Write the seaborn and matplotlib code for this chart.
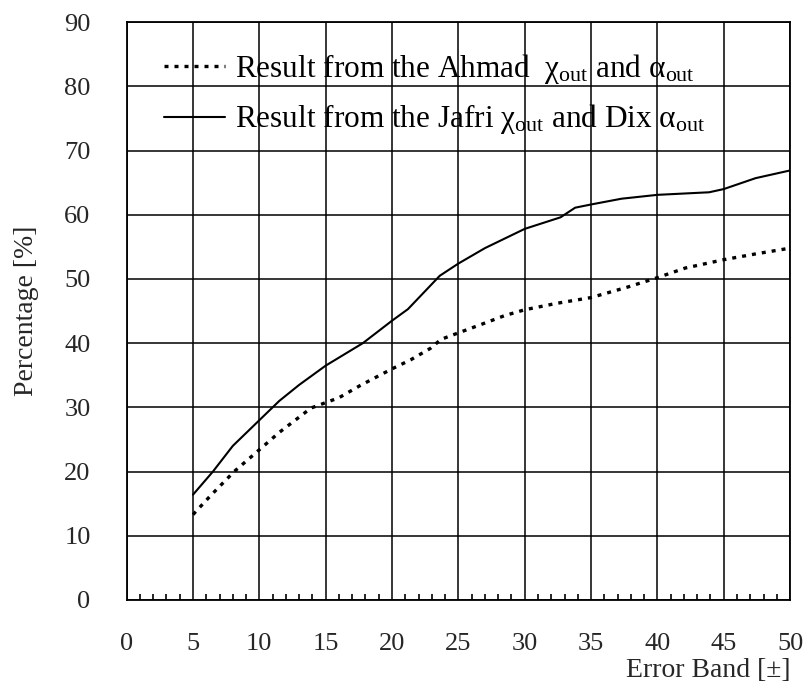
import matplotlib
matplotlib.use("Agg")
import matplotlib.pyplot as plt
import seaborn as sns
from matplotlib.ticker import MultipleLocator, FixedLocator

# Percentage of cases inside each error band (Jafri chi / Dix alpha)
jafri_x = [5, 6.5, 8, 10, 11.5, 13, 15, 17.8, 20, 21.2, 23.6, 25, 27, 30,
           32.7, 33.8, 35, 37.3, 40, 43.9, 45, 47.4, 50]
jafri_y = [16.4, 20.0, 24.0, 28.0, 31.0, 33.5, 36.5, 40.0, 43.5, 45.3, 50.5,
           52.4, 54.8, 57.8, 59.6, 61.1, 61.6, 62.5, 63.1, 63.5, 64.0, 65.7, 66.9]

# Percentage of cases inside each error band (Ahmad chi / alpha)
ahmad_x = [5, 6.3, 8.1, 10, 11.5, 13.9, 16, 17.6, 20, 21.4, 22.9, 23.7, 25,
           26.7, 28.5, 30, 32.4, 35, 37.7, 40, 42.1, 45, 47.4, 50]
ahmad_y = [13.3, 16.2, 20.0, 23.4, 26.1, 29.9, 31.5, 33.4, 36.0, 37.4, 39.2,
           40.6, 41.6, 42.9, 44.3, 45.2, 46.2, 47.1, 48.7, 50.2, 51.7, 53.0,
           53.9, 54.8]

x_ticks = list(range(0, 51, 5))
y_ticks = list(range(0, 91, 10))

label_ahmad = r"Result from the Ahmad  $\mathrm{\chi_{out}}$ and $\mathrm{\alpha_{out}}$"
label_jafri = r"Result from the Jafri $\mathrm{\chi_{out}}$ and Dix $\mathrm{\alpha_{out}}$"

sns.set_style("white")
plt.rcParams.update({
    "font.family": ["Liberation Serif", "DejaVu Serif"],
    "mathtext.fontset": "custom",
    "mathtext.rm": "Liberation Serif",
    "mathtext.it": "Liberation Serif:italic",
    "mathtext.bf": "Liberation Serif:bold",
    "axes.edgecolor": "black",
    "axes.linewidth": 1.3,
})

fig = plt.figure(figsize=(8.12, 6.92), dpi=100)
ax = fig.add_axes([0.156, 0.133, 0.817, 0.835])

sns.lineplot(x=ahmad_x, y=ahmad_y, ax=ax, color="black", linewidth=2.4,
             linestyle=(0, (1.2, 1.8)), estimator=None, sort=False,
             label=label_ahmad)
sns.lineplot(x=jafri_x, y=jafri_y, ax=ax, color="black", linewidth=1.5,
             estimator=None, sort=False, label=label_jafri)

ax.set_xlim(0, 50)
ax.set_ylim(0, 90)
ax.xaxis.set_major_locator(FixedLocator(x_ticks))
ax.yaxis.set_major_locator(FixedLocator(y_ticks))
ax.xaxis.set_minor_locator(MultipleLocator(1))
ax.grid(True, which="major", color="black", linewidth=1.1)
ax.set_axisbelow(True)

ax.tick_params(axis="both", which="major", length=0, labelsize=19)
ax.tick_params(axis="x", which="major", pad=24)
ax.tick_params(axis="y", which="major", pad=26)
ax.tick_params(axis="x", which="minor", direction="in", length=4,
               width=1.2, color="black", bottom=True, top=False)

ax.set_xlabel("Error Band [\u00b1]", fontsize=20, loc="right", labelpad=2)
ax.set_ylabel("Percentage [%]", fontsize=20, labelpad=18)

leg = ax.legend(loc="upper left", bbox_to_anchor=(0.057, 0.948),
                frameon=False, fontsize=22.5, handlelength=1.95,
                handletextpad=0.3, labelspacing=0.52, borderpad=0,
                borderaxespad=0)
for t in leg.get_texts():
    t.set_color("black")

fig.savefig("out.png", dpi=100, facecolor="white")
